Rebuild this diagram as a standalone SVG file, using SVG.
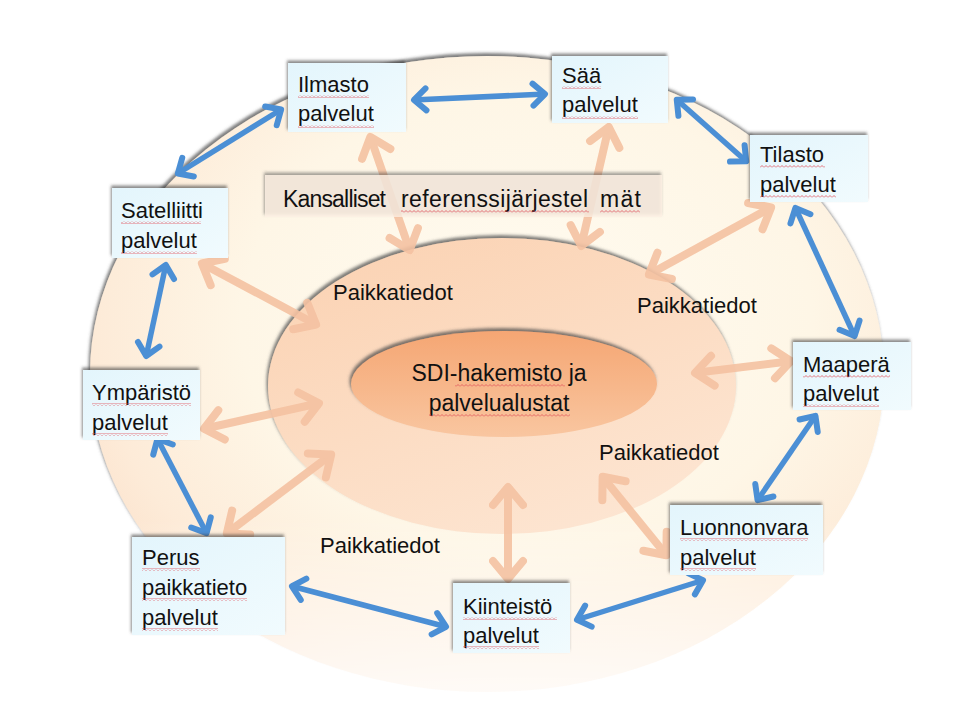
<svg xmlns="http://www.w3.org/2000/svg" width="965" height="728" viewBox="0 0 965 728">
<style>
.t{font-family:"Liberation Sans",Arial,sans-serif;font-size:22px;fill:#111}
.c{font-family:"Liberation Sans",Arial,sans-serif;font-size:23px;fill:#111;text-anchor:middle}
.k{font-family:"Liberation Sans",Arial,sans-serif;font-size:23px;fill:#111}
.box{fill:url(#boxg);filter:url(#bsh)}
.blue{stroke:#4b8fd5;stroke-width:5.5;fill:none;marker-start:url(#bh);marker-end:url(#bh)}
.peach{stroke:#f5c2a2;stroke-width:8;fill:none;marker-start:url(#ph);marker-end:url(#ph);opacity:0.9}
.w{fill:url(#wavy)}
</style>
<defs>
<pattern id="wavy" patternUnits="userSpaceOnUse" width="4" height="3">
<path d="M0,2.5 L2,0.5 L4,2.5" fill="none" stroke="#e0505a" stroke-width="0.8"/>
</pattern>
<linearGradient id="boxg" x1="0" y1="0" x2="1" y2="1">
<stop offset="0" stop-color="#e3f5fc"/>
<stop offset="1" stop-color="#f1fbfe"/>
</linearGradient>
<radialGradient id="outg" cx="0.55" cy="0.42" r="0.6">
<stop offset="0" stop-color="#fffbf0"/>
<stop offset="0.6" stop-color="#fef6e6"/>
<stop offset="0.9" stop-color="#fdebd8"/>
<stop offset="1" stop-color="#fce5d0"/>
</radialGradient>
<linearGradient id="fadeg" x1="0" y1="0" x2="0" y2="1">
<stop offset="0" stop-color="#fff"/>
<stop offset="0.72" stop-color="#fff"/>
<stop offset="1" stop-color="#fff" stop-opacity="0.1"/>
</linearGradient>
<mask id="fade" maskUnits="userSpaceOnUse" x="0" y="0" width="965" height="728">
<rect x="60" y="30" width="860" height="680" fill="url(#fadeg)"/>
</mask>
<linearGradient id="midg" x1="0.2" y1="0" x2="0.8" y2="1">
<stop offset="0" stop-color="#fbd3b4"/>
<stop offset="1" stop-color="#fde6d3"/>
</linearGradient>
<linearGradient id="inng" x1="0" y1="0" x2="0" y2="1">
<stop offset="0" stop-color="#f5a673"/>
<stop offset="1" stop-color="#f9c6a0"/>
</linearGradient>
<filter id="bsh" x="-10%" y="-20%" width="120%" height="140%">
<feDropShadow dx="-1" dy="-2.5" stdDeviation="1.5" flood-color="#3a3a3a" flood-opacity="0.6"/>
</filter>
<filter id="esh" x="-5%" y="-10%" width="110%" height="120%">
<feDropShadow dx="-1.5" dy="-3" stdDeviation="1.8" flood-color="#444" flood-opacity="0.7"/>
</filter>
<marker id="bh" markerUnits="userSpaceOnUse" orient="auto-start-reverse" viewBox="-20 -15 25 30" markerWidth="25" markerHeight="30" refX="0" refY="0">
<path d="M-13,-11 L-1,0 L-13,11" fill="none" stroke="#4b8fd5" stroke-width="6" stroke-linecap="round" stroke-linejoin="round"/>
</marker>
<marker id="ph" markerUnits="userSpaceOnUse" orient="auto-start-reverse" viewBox="-26 -20 32 40" markerWidth="32" markerHeight="40" refX="0" refY="0">
<path d="M-19,-15 L-1,0 L-19,15" fill="none" stroke="#f5c2a2" stroke-width="8" stroke-linecap="round" stroke-linejoin="round"/>
</marker>
</defs>
<rect width="965" height="728" fill="#ffffff"/>
<g id="outer-ring">
<ellipse cx="487" cy="374" rx="397" ry="318" fill="url(#outg)" filter="url(#esh)" mask="url(#fade)"/>
</g>
<g id="paikkatiedot-ring">
<ellipse cx="502" cy="386" rx="234" ry="148" fill="url(#midg)" filter="url(#esh)"/>
<text class="t" x="333" y="300">Paikkatiedot</text>
<text class="t" x="637" y="313">Paikkatiedot</text>
<text class="t" x="599" y="460">Paikkatiedot</text>
<text class="t" x="320" y="553">Paikkatiedot</text>
</g>
<g id="sdi">
<ellipse cx="504" cy="384" rx="153" ry="53" fill="url(#inng)" filter="url(#esh)"/>
<text class="c" x="499" y="381">SDI-hakemisto ja</text>
<text class="c" x="499" y="411">palvelualustat</text>
<rect class="w" x="455" y="384" width="110" height="3"/>
<rect class="w" x="429" y="414" width="141" height="3"/>
</g>
<g id="connectors">
<line class="peach" x1="370" y1="136" x2="410" y2="251"/>
<line class="peach" x1="609" y1="126" x2="581" y2="247"/>
<line class="peach" x1="772" y1="207" x2="648" y2="275"/>
<line class="peach" x1="201" y1="263" x2="317" y2="325"/>
<line class="peach" x1="792" y1="361" x2="694" y2="373"/>
<line class="peach" x1="203" y1="429" x2="320" y2="403"/>
<line class="peach" x1="226" y1="534" x2="332" y2="454"/>
<line class="peach" x1="508" y1="486" x2="508" y2="580"/>
<line class="peach" x1="602" y1="476" x2="667" y2="556"/>
<line class="blue" x1="413" y1="100" x2="546" y2="94"/>
<line class="blue" x1="282" y1="109" x2="177" y2="174"/>
<line class="blue" x1="676" y1="99" x2="747" y2="162"/>
<line class="blue" x1="795" y1="207" x2="855" y2="337"/>
<line class="blue" x1="166" y1="264" x2="146" y2="357"/>
<line class="blue" x1="157" y1="438" x2="207" y2="534"/>
<line class="blue" x1="291" y1="586" x2="447" y2="627"/>
<line class="blue" x1="576" y1="620" x2="704" y2="580"/>
<line class="blue" x1="816" y1="415" x2="757" y2="501"/>
</g>
<g id="kansalliset">
<rect x="265" y="175" width="397" height="42" fill="#fcefe3" fill-opacity="0.78" filter="url(#bsh)"/>
<text class="k" x="283" y="207" textLength="103">Kansalliset</text>
<text class="k" x="401" y="207" textLength="187">referenssijärjestel</text>
<text class="k" x="600" y="207" textLength="41">mät</text>
<rect class="w" x="401" y="210" width="188" height="3"/>
<rect class="w" x="600" y="210" width="40" height="3"/>
</g>
<g id="ilmasto">
<rect class="box" x="288" y="63" width="118" height="69"/>
<text class="t" x="298" y="92">Ilmasto</text>
<text class="t" x="298" y="121">palvelut</text>
<rect class="w" x="298" y="95" width="71" height="3"/>
<rect class="w" x="298" y="125" width="76" height="3"/>
</g>
<g id="saa">
<rect class="box" x="552" y="56" width="116" height="67"/>
<text class="t" x="562" y="83">Sää</text>
<text class="t" x="562" y="112">palvelut</text>
<rect class="w" x="562" y="86" width="39" height="3"/>
<rect class="w" x="562" y="116" width="76" height="3"/>
</g>
<g id="tilasto">
<rect class="box" x="750" y="135" width="118" height="67"/>
<text class="t" x="760" y="162">Tilasto</text>
<text class="t" x="760" y="192">palvelut</text>
<rect class="w" x="760" y="165" width="65" height="3"/>
<rect class="w" x="760" y="195" width="76" height="3"/>
</g>
<g id="satelliitti">
<rect class="box" x="112" y="188" width="116" height="70"/>
<text class="t" x="121" y="218">Satelliitti</text>
<text class="t" x="121" y="248">palvelut</text>
<rect class="w" x="121" y="221" width="80" height="3"/>
<rect class="w" x="121" y="251" width="76" height="3"/>
</g>
<g id="ymparisto">
<rect class="box" x="83" y="370" width="117" height="70"/>
<text class="t" x="92" y="400">Ympäristö</text>
<text class="t" x="92" y="430">palvelut</text>
<rect class="w" x="92" y="403" width="99" height="3"/>
<rect class="w" x="92" y="433" width="76" height="3"/>
</g>
<g id="maapera">
<rect class="box" x="793" y="342" width="118" height="68"/>
<text class="t" x="803" y="372">Maaperä</text>
<text class="t" x="803" y="401">palvelut</text>
<rect class="w" x="803" y="375" width="87" height="3"/>
<rect class="w" x="803" y="404" width="76" height="3"/>
</g>
<g id="perus">
<rect class="box" x="132" y="537" width="153" height="98"/>
<text class="t" x="142" y="565">Perus</text>
<text class="t" x="142" y="595">paikkatieto</text>
<text class="t" x="142" y="625">palvelut</text>
<rect class="w" x="142" y="568" width="58" height="3"/>
<rect class="w" x="142" y="598" width="105" height="3"/>
<rect class="w" x="142" y="628" width="76" height="3"/>
</g>
<g id="kiinteisto">
<rect class="box" x="453" y="583" width="117" height="70"/>
<text class="t" x="463" y="614">Kiinteistö</text>
<text class="t" x="463" y="643">palvelut</text>
<rect class="w" x="463" y="617" width="94" height="3"/>
<rect class="w" x="463" y="646" width="76" height="3"/>
</g>
<g id="luonnonvara">
<rect class="box" x="670" y="505" width="153" height="70"/>
<text class="t" x="680" y="535">Luonnonvara</text>
<text class="t" x="680" y="565">palvelut</text>
<rect class="w" x="680" y="538" width="128" height="3"/>
<rect class="w" x="680" y="568" width="76" height="3"/>
</g>
</svg>
